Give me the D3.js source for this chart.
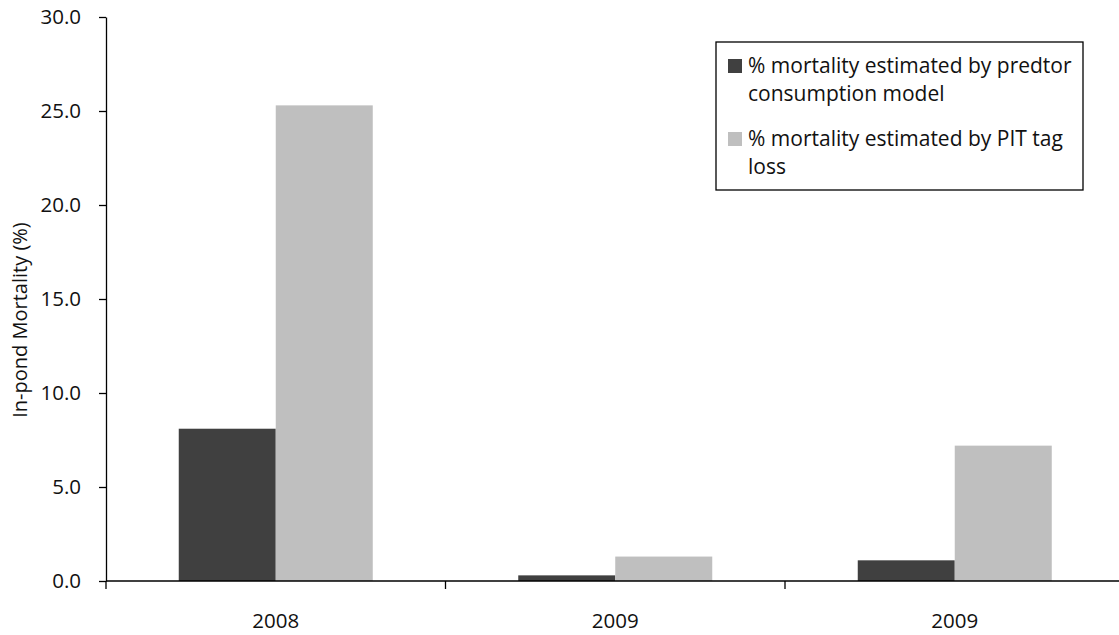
<!DOCTYPE html>
<html>
<head>
<meta charset="utf-8">
<script src="https://cdn.jsdelivr.net/npm/d3@7"></script>
<style>
  html, body { margin: 0; padding: 0; background: #fff; }
  svg { display: block; font-family: "Open Sans", "Noto Sans", sans-serif; }
</style>
</head>
<body>
<svg id="chart" width="1119" height="635"></svg>
<script>
// Pond-year groups (two groups share the 2009 label)
const categories = ["2008", "2009", "2009"];
const seriesNames = [
  "% mortality estimated by predtor consumption model",
  "% mortality estimated by PIT tag loss"
];
const predatorModel = [8.1, 0.3, 1.1];
const pitTagLoss = [25.3, 1.3, 7.2];
const yTicks = [0, 5, 10, 15, 20, 25, 30];
const colors = ["#404040", "#bfbfbf"];

const svg = d3.select("#chart");
const W = 1119, H = 635;
const plotLeft = 106, plotTop = 17, plotBottom = 581;
const bandW = 339.5;

const x = d3.scaleBand()
  .domain(d3.range(categories.length))
  .range([plotLeft, plotLeft + bandW * categories.length])
  .padding(0);

const groupW = 194;
const x1 = d3.scaleBand()
  .domain([0, 1])
  .range([(bandW - groupW) / 2, (bandW + groupW) / 2])
  .padding(0);

const y = d3.scaleLinear().domain([0, 30]).range([plotBottom, plotTop]);

const series = [predatorModel, pitTagLoss];

// Bars
const groups = svg.append("g").selectAll("g")
  .data(categories.map((c, i) => i))
  .join("g")
  .attr("transform", i => `translate(${x(i)},0)`);

groups.selectAll("rect")
  .data(i => series.map((s, k) => ({ k, v: s[i] })))
  .join("rect")
  .attr("x", d => x1(d.k))
  .attr("width", x1.bandwidth())
  .attr("y", d => y(d.v))
  .attr("height", d => y(0) - y(d.v))
  .attr("fill", d => colors[d.k]);

// Y axis
const yAxis = svg.append("g")
  .attr("transform", `translate(${plotLeft},0)`)
  .call(d3.axisLeft(y).tickValues(yTicks).tickFormat(d3.format(".1f"))
    .tickSize(7).tickSizeOuter(0).tickPadding(18));
yAxis.select(".domain").attr("stroke", "#000").attr("stroke-width", 1.3);
yAxis.selectAll(".tick line").attr("stroke", "#000").attr("stroke-width", 1.3);
yAxis.selectAll(".tick text")
  .attr("font-size", 20.5).attr("fill", "#111")
  .attr("font-family", "'Open Sans', sans-serif");

// X axis line across the full width
svg.append("line")
  .attr("x1", plotLeft).attr("x2", W)
  .attr("y1", y(0)).attr("y2", y(0))
  .attr("stroke", "#000").attr("stroke-width", 1.3);

// Category boundary ticks
svg.append("g").selectAll("line")
  .data(d3.range(categories.length + 1).map(i => plotLeft + bandW * i).filter(v => v < W))
  .join("line")
  .attr("x1", d => d).attr("x2", d => d)
  .attr("y1", y(0)).attr("y2", y(0) + 8)
  .attr("stroke", "#000").attr("stroke-width", 1.3);

// Category labels
svg.append("g").selectAll("text")
  .data(categories)
  .join("text")
  .attr("x", (d, i) => x(i) + x.bandwidth() / 2)
  .attr("y", y(0) + 47)
  .attr("text-anchor", "middle")
  .attr("font-size", 20.5)
  .attr("fill", "#111")
  .text(d => d);

// Y axis title
svg.append("text")
  .attr("transform", "translate(27,320) rotate(-90)")
  .attr("text-anchor", "middle")
  .attr("font-size", 20)
  .attr("fill", "#111")
  .text("In-pond Mortality (%)");

// Legend
const legend = svg.append("g");
legend.append("rect")
  .attr("x", 716).attr("y", 42)
  .attr("width", 367).attr("height", 148)
  .attr("fill", "#fff").attr("stroke", "#000").attr("stroke-width", 1.3);

const legendLines = [
  ["% mortality estimated by predtor", "consumption model"],
  ["% mortality estimated by PIT tag", "loss"]
];
const itemTop = [73, 146];
legendLines.forEach((lines, k) => {
  legend.append("rect")
    .attr("x", 728).attr("y", itemTop[k] - 14)
    .attr("width", 14).attr("height", 14)
    .attr("fill", colors[k]);
  const t = legend.append("text")
    .attr("x", 748).attr("y", itemTop[k])
    .attr("font-size", 21)
    .attr("fill", "#111");
  lines.forEach((ln, j) => {
    t.append("tspan").attr("x", 748).attr("dy", j === 0 ? 0 : 28).text(ln);
  });
});
</script>
</body>
</html>
